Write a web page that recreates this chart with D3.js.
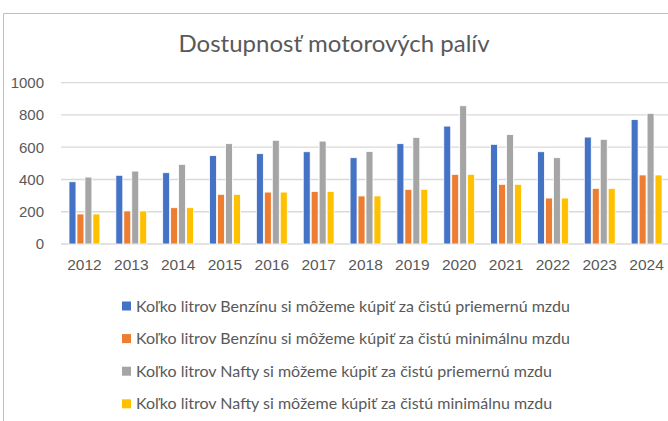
<!DOCTYPE html>
<html>
<head>
<meta charset="utf-8">
<title>Dostupnosť motorových palív</title>
<script src="https://cdnjs.cloudflare.com/ajax/libs/d3/7.8.5/d3.min.js"></script>
<style>
  body { margin: 0; background: #fff; }
  svg { display: block; font-family: Lato, "Open Sans", sans-serif; }
</style>
</head>
<body>
<div id="chart"></div>
<script>
var years = ["2012","2013","2014","2015","2016","2017","2018","2019","2020","2021","2022","2023","2024"];
var benzinPriemerna = [386, 426, 442, 548, 560, 572, 535, 622, 731, 618, 572, 663, 771];
var benzinMinimalna = [186, 205, 225, 308, 322, 326, 298, 339, 432, 370, 285, 345, 428];
var naftaPriemerna  = [415, 452, 494, 622, 643, 638, 574, 661, 857, 678, 535, 649, 810];
var naftaMinimalna  = [186, 205, 225, 308, 322, 326, 298, 339, 432, 370, 285, 345, 428];
var seriesNames = [
  "Koľko litrov Benzínu si môžeme kúpiť za čistú priemernú mzdu",
  "Koľko litrov Benzínu si môžeme kúpiť za čistú minimálnu mzdu",
  "Koľko litrov Nafty si môžeme kúpiť za čistú priemernú mzdu",
  "Koľko litrov Nafty si môžeme kúpiť za čistú minimálnu mzdu"
];
var colors = ["#4472c4", "#ed7d31", "#a5a5a5", "#ffc000"];
var yTicks = [0, 200, 400, 600, 800, 1000];

var seriesValues = [benzinPriemerna, benzinMinimalna, naftaPriemerna, naftaMinimalna];

var width = 668, height = 421;
var svg = d3.select("#chart").append("svg")
    .attr("width", width)
    .attr("height", height);

// outer frame of the chart area
svg.append("path")
    .attr("d", "M3.5," + height + "V13.5H" + width)
    .attr("fill", "none")
    .attr("stroke", "#bfbfbf");

svg.append("text")
    .attr("x", 334)
    .attr("y", 52)
    .attr("text-anchor", "middle")
    .attr("fill", "#595959")
    .style("font-size", "24px")
    .text("Dostupnosť motorových palív");

var x0 = d3.scaleBand().domain(years).range([61, 670]).paddingInner(0.32).paddingOuter(0.16);
var x1 = d3.scaleBand().domain(d3.range(4)).range([0, x0.bandwidth()]);
var y = d3.scaleLinear().domain([0, 1000]).range([244, 82.7]);

// gridlines
svg.append("g")
  .selectAll("line")
  .data(yTicks)
  .join("line")
    .attr("x1", 61)
    .attr("x2", width)
    .attr("y1", d => y(d))
    .attr("y2", d => y(d))
    .attr("stroke", "#d9d9d9")
    .attr("stroke-width", 1.3);

// y axis labels
var yAxis = d3.axisLeft(y).tickValues(yTicks).tickFormat(d3.format("d")).tickSize(0).tickPadding(0);
svg.append("g")
    .attr("transform", "translate(44,0)")
    .call(yAxis)
    .call(g => g.select(".domain").remove())
    .call(g => g.selectAll("text").attr("fill", "#595959").style("font-size", "15px").attr("font-family", null));

// x axis labels
var xAxis = d3.axisBottom(x0).tickSize(0).tickPadding(0);
svg.append("g")
    .attr("transform", "translate(0,259)")
    .call(xAxis)
    .call(g => g.select(".domain").remove())
    .call(g => g.selectAll("text").attr("fill", "#595959").style("font-size", "15.5px").attr("font-family", null));

// bars
var groups = svg.append("g")
  .selectAll("g")
  .data(years)
  .join("g")
    .attr("transform", d => "translate(" + x0(d) + ",0)");

groups.selectAll("rect")
  .data((d, i) => seriesValues.map((vals, s) => ({ s: s, v: vals[i] })))
  .join("rect")
    .attr("x", d => x1(d.s) + 0.5)
    .attr("width", x1.bandwidth() - 1)
    .attr("y", d => y(d.v))
    .attr("height", d => y(0) - y(d.v))
    .attr("fill", d => colors[d.s])
    .attr("stroke", "#fff")
    .attr("stroke-width", 0.8);

// legend
var legend = svg.append("g")
  .selectAll("g")
  .data(seriesNames)
  .join("g")
    .attr("transform", (d, i) => "translate(122," + (306 + i * 32.6) + ")");

legend.append("rect")
    .attr("x", 0)
    .attr("y", -4.5)
    .attr("width", 9)
    .attr("height", 9)
    .attr("fill", (d, i) => colors[i]);

legend.append("text")
    .attr("x", 14)
    .attr("dy", "0.35em")
    .attr("fill", "#595959")
    .style("font-size", "16px")
    .text(d => d);
</script>
</body>
</html>
